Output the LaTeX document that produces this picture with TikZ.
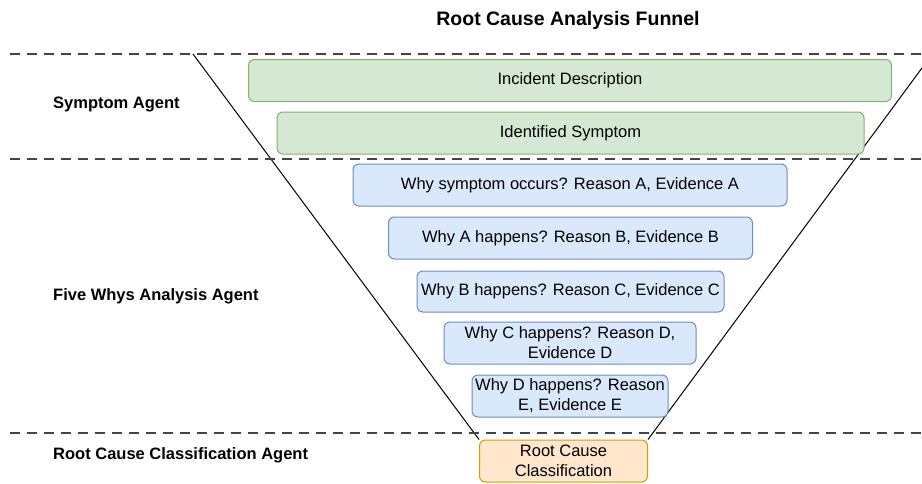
\documentclass[tikz,border=0pt]{standalone}
\usepackage{fontspec}
\setmainfont{Liberation Sans}
\usetikzlibrary{positioning, backgrounds}
\definecolor{symfill}{HTML}{D5E8D4}
\definecolor{symline}{HTML}{82B366}
\definecolor{whyfill}{HTML}{DAE8FC}
\definecolor{whyline}{HTML}{6C8EBF}
\definecolor{rootfill}{HTML}{FFE6CC}
\definecolor{rootline}{HTML}{D79B00}
\definecolor{sepline}{HTML}{444444}
\tikzset{
  box/.style={draw, rounded corners=6pt, line width=1pt, align=center,
    inner sep=0pt, font=\fontsize{16.5}{20}\selectfont},
  symbox/.style={box, fill=symfill, draw=symline},
  whybox/.style={box, fill=whyfill, draw=whyline},
  rootbox/.style={box, fill=rootfill, draw=rootline},
  agent/.style={anchor=west, inner sep=0pt, font=\bfseries\fontsize{16.5}{20}\selectfont},
  sepline/.style={draw=sepline, line width=1.4pt, dash pattern=on 10pt off 7pt},
  funnel/.style={draw=black, line width=1pt}
}

\begin{document}
\begin{tikzpicture}[x=1pt, y=-1pt]
    \useasboundingbox (0,0) rectangle (922,483);
    \node[font=\bfseries\fontsize{19.5}{23}\selectfont] (title) at (568,20) {Root Cause Analysis Funnel};
    % layer separators
    \draw[sepline] (10,54) -- (922,54);
    \draw[sepline] (10,159) -- (922,159);
    \draw[sepline] (10,433) -- (922,433);
    % agents
    \node[agent] (symagent) at (53,104) {Symptom Agent};
    \node[agent] (whyagent) at (53,296) {Five Whys Analysis Agent};
    \node[agent] (rootagent) at (53,455) {Root Cause Classification Agent};
    % boxes
    \node[symbox, minimum width=643pt, minimum height=42pt] (incident) at (570,80.5) {Incident Description};
    \node[symbox, minimum width=587pt, minimum height=42pt] (symptom) at (570.5,133) {Identified Symptom};
    \node[whybox, minimum width=434pt, minimum height=42pt] (whya) at (570,185) {Why symptom occurs? Reason A, Evidence A};
    \node[whybox, minimum width=364pt, minimum height=42pt] (whyb) at (570.5,238) {Why A happens? Reason B, Evidence B};
    \node[whybox, minimum width=307pt, minimum height=41pt] (whyc) at (570.5,291.5) {Why B happens? Reason C, Evidence C};
    \node[whybox, minimum width=252pt, minimum height=42pt] (whyd) at (570,343) {Why C happens? Reason D,\\ Evidence D};
    \node[whybox, minimum width=196pt, minimum height=42pt] (whye) at (570,396) {Why D happens? Reason\\ E, Evidence E};
    \node[rootbox, minimum width=168pt, minimum height=42pt] (root) at (563.5,461) {Root Cause\\ Classification};
    % funnel sides, behind the boxes
    \coordinate (ftl) at (193,54);
    \coordinate (ftr) at (922,68);
    \begin{pgfonlayer}{background}
      \draw[funnel] (ftl) -- (root.north west);
      \draw[funnel] (ftr) -- (root.north east);
    \end{pgfonlayer}
\end{tikzpicture}
\end{document}
